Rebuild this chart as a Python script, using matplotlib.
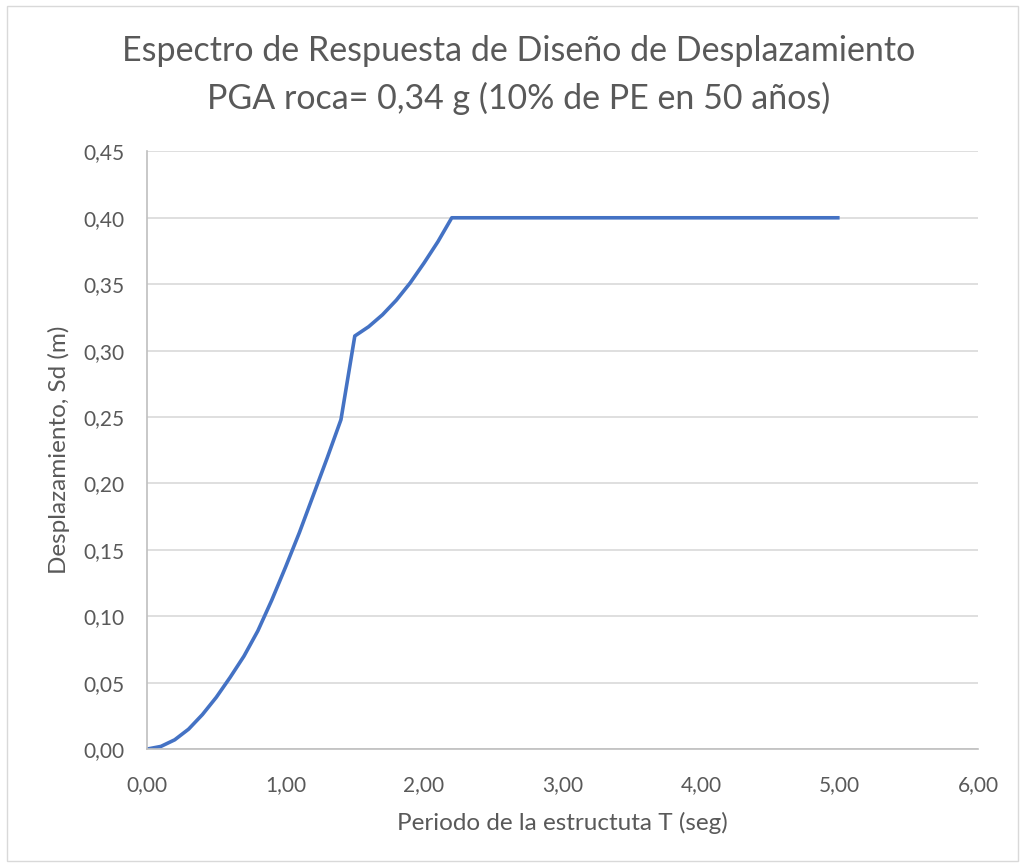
import matplotlib
matplotlib.use("Agg")
import matplotlib.pyplot as plt
from matplotlib.ticker import MultipleLocator, FuncFormatter
from matplotlib.patches import Rectangle

# Data
periodo = [0.0, 0.1, 0.2, 0.3, 0.4, 0.5, 0.6, 0.7, 0.8, 0.9, 1.0, 1.1, 1.2, 1.3, 1.4,
           1.5, 1.6, 1.7, 1.8, 1.9, 2.0, 2.1, 2.2, 3.0, 4.0, 5.0]
desplazamiento = [0.0, 0.002, 0.007, 0.015, 0.026, 0.039, 0.054, 0.070, 0.089, 0.112,
                  0.137, 0.163, 0.191, 0.219, 0.248,
                  0.311, 0.318, 0.327, 0.338, 0.351, 0.366, 0.382, 0.400, 0.400, 0.400, 0.400]

title = "Espectro de Respuesta de Diseño de Desplazamiento\nPGA roca= 0,34 g (10% de PE en 50 años)"
xlabel = "Periodo de la estructuta T (seg)"
ylabel = "Desplazamiento, Sd (m)"

plt.rcParams['font.family'] = ['Lato', 'DejaVu Sans']
text_color = '#595959'

fig = plt.figure(figsize=(10.21, 8.65), dpi=100)
ax = fig.add_axes([0.144, 0.134, 0.814, 0.691])

ax.plot(periodo, desplazamiento, color='#4472C4', lw=2.6, solid_capstyle='butt')

ax.set_xlim(0, 6)
ax.set_ylim(0, 0.45)
ax.xaxis.set_major_locator(MultipleLocator(1))
ax.yaxis.set_major_locator(MultipleLocator(0.05))
fmt = FuncFormatter(lambda v, p: f"{v:.2f}".replace('.', ','))
ax.xaxis.set_major_formatter(fmt)
ax.yaxis.set_major_formatter(fmt)
ax.tick_params(length=0, labelsize=15, labelcolor=text_color)
ax.tick_params(axis='y', pad=16)
ax.tick_params(axis='x', pad=19)
ax.grid(axis='y', color='#D9D9D9', lw=1.2)
ax.set_axisbelow(True)
for s in ['top', 'right']:
    ax.spines[s].set_visible(False)
for s in ['left', 'bottom']:
    ax.spines[s].set_color('#BFBFBF')
    ax.spines[s].set_linewidth(1.2)

ax.set_xlabel(xlabel, fontsize=17.5, color=text_color, labelpad=12)
ax.set_ylabel(ylabel, fontsize=17.5, color=text_color, labelpad=10)

fig.text(0.508, 0.913, title, ha='center', va='center', fontsize=24.5,
         color=text_color, linespacing=1.55)

fig.patches.append(Rectangle((0.007, 0.005), 0.99, 0.988, transform=fig.transFigure,
                             fill=False, edgecolor='#D9D9D9', lw=1))

fig.savefig("out.png", dpi=100)
